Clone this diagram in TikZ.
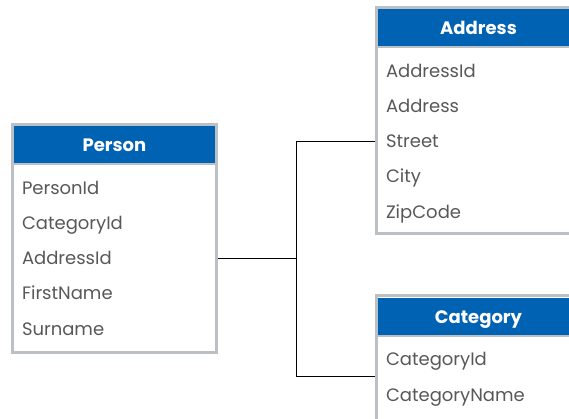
\documentclass[tikz,border=0pt]{standalone}
\usepackage{fontspec}
\setmainfont{Poppins}
\usetikzlibrary{positioning,backgrounds}
\definecolor{hdrblue}{RGB}{0,98,178}
\definecolor{rimgray}{RGB}{186,192,196}
\definecolor{txtgray}{RGB}{88,88,88}
\tikzset{
  %% Table header bar
  headbox/.style={
    rectangle, fill=hdrblue, text=white,
    minimum width=201pt, minimum height=38pt, inner sep=0pt,
    text height=13pt, text depth=0pt,
    font=\fontsize{18}{20}\selectfont\bfseries},
  %% Table rows
  rowbox/.style={
    rectangle, text=txtgray,
    minimum width=201pt, minimum height=34.8pt,
    text width=185pt, align=left, inner xsep=8pt, inner ysep=0pt,
    text height=13pt, text depth=0pt,
    font=\fontsize{18}{20}\selectfont},
  %% Table rim
  rim/.style={draw=rimgray, line width=3pt},
  %% Connectors
  link/.style={draw=black, line width=1pt},
}
\begin{document}
\begin{tikzpicture}[x=1pt, y=-1pt]
  \useasboundingbox (0,0) rectangle (569,418);

  %% Person table
  \node[headbox] (pHead) at (114.5,145) {Person};
  \node[rowbox, below=6pt of pHead] (pPersonId) {PersonId};
  \node[rowbox, below=0pt of pPersonId] (pCategoryId) {CategoryId};
  \node[rowbox, below=0pt of pCategoryId] (pAddressId) {AddressId};
  \node[rowbox, below=0pt of pAddressId] (pFirstName) {FirstName};
  \node[rowbox, below=0pt of pFirstName] (pSurname) {Surname};
  \draw[rim] ([shift={(-1.5,-1.5)}]pHead.north west)
    rectangle ([shift={(1.5,6)}]pSurname.south east);
  \draw[rim, line width=2pt] (pHead.south west) -- (pHead.south east);

  %% Address table
  \node[headbox] (aHead) at (478.5,28) {Address};
  \node[rowbox, below=6pt of aHead] (aAddressId) {AddressId};
  \node[rowbox, below=0pt of aAddressId] (aAddress) {Address};
  \node[rowbox, below=0pt of aAddress] (aStreet) {Street};
  \node[rowbox, below=0pt of aStreet] (aCity) {City};
  \node[rowbox, below=0pt of aCity] (aZipCode) {ZipCode};
  \draw[rim] ([shift={(-1.5,-1.5)}]aHead.north west)
    rectangle ([shift={(1.5,4.5)}]aZipCode.south east);
  \draw[rim, line width=2pt] (aHead.south west) -- (aHead.south east);

  %% Category table
  \node[headbox] (cHead) at (478.5,316.5) {Category};
  \node[rowbox, below=6pt of cHead] (cCategoryId) {CategoryId};
  \node[rowbox, below=0pt of cCategoryId] (cCategoryName) {CategoryName};
  \draw[rim] ([shift={(-1.5,-1.5)}]cHead.north west)
    rectangle ([shift={(1.5,20)}]cCategoryName.south east);
  \draw[rim, line width=2pt] (cHead.south west) -- (cHead.south east);

  %% Links
  \coordinate (jn) at ([xshift=81pt]pAddressId.east);
  \begin{scope}[on background layer]
    \draw[link] (pAddressId.east) -- (jn);
    \draw[link] (aStreet.west) -| (jn) |- (cCategoryId.south west);
  \end{scope}
\end{tikzpicture}
\end{document}
